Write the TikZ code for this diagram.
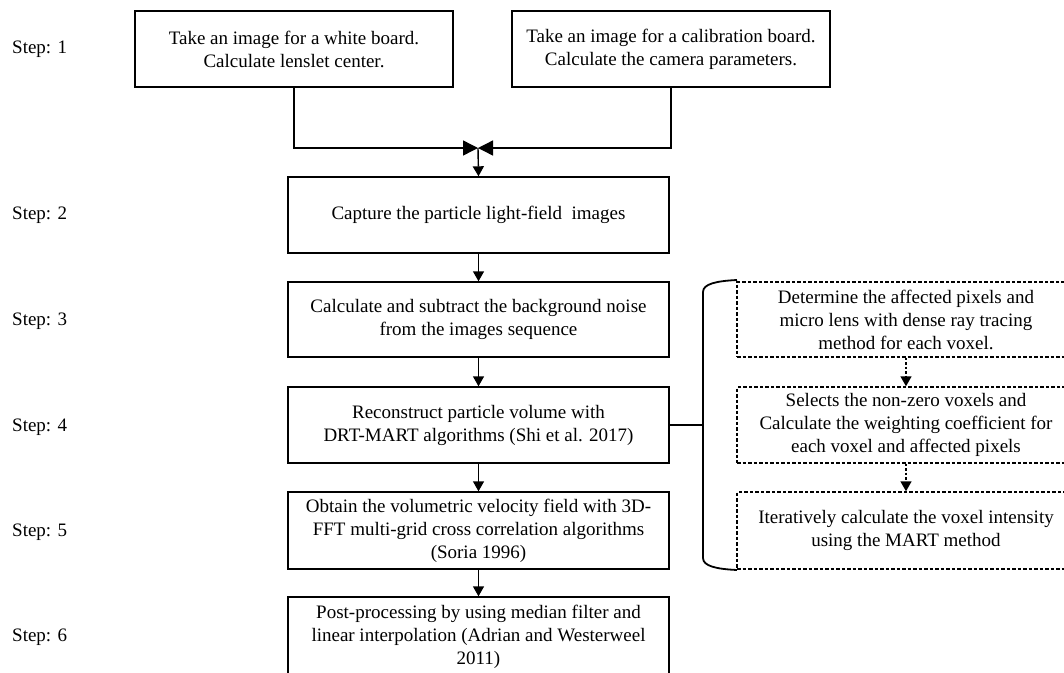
\documentclass[tikz,border=0pt]{standalone}
\usepackage{fontspec}
\setmainfont{Liberation Serif}
\usetikzlibrary{arrows.meta}
\begin{document}
\begin{tikzpicture}[x=1pt,y=-1pt,
  box/.style={draw, line width=1.4pt, align=center, inner sep=0pt, font=\fontsize{19}{23}\selectfont},
  dbox/.style={box, dash pattern=on 3.5pt off 2pt},
  lbl/.style={anchor=west, inner sep=0pt, font=\fontsize{19}{23}\selectfont},
  arr/.style={line width=1.4pt, -{Triangle[length=10pt,width=11pt]}},
  darr/.style={arr, dash pattern=on 2.5pt off 2pt},
  jarr/.style={line width=1.4pt, -{Triangle[length=15pt,width=15pt]}},
  brace/.style={line width=1.8pt}
]
\useasboundingbox (0,0) rectangle (1064,672);

% step labels
\node[lbl] (s1) at (12,49)  {Step: 1};
\node[lbl] (s2) at (12,215) {Step: 2};
\node[lbl] (s3) at (12,321) {Step: 3};
\node[lbl] (s4) at (12,427) {Step: 4};
\node[lbl] (s5) at (12,532) {Step: 5};
\node[lbl] (s6) at (12,637) {Step: 6};

% main boxes
\node[box, minimum width=318pt, minimum height=76pt] (b1l) at (294,49)
  {Take an image for a white board.\\Calculate lenslet center.};
\node[box, minimum width=318pt, minimum height=76pt] (b1r) at (671,49)
  {Take an image for a calibration board.\\Calculate the camera parameters.};
\node[box, minimum width=381pt, minimum height=76pt] (b2) at (478.5,215)
  {Capture the particle light-field\ \ images};
\node[box, minimum width=381pt, minimum height=75pt] (b3) at (478.5,319.5)
  {Calculate and subtract the background noise\\from the images sequence};
\node[box, minimum width=381pt, minimum height=76pt] (b4) at (478.5,425)
  {Reconstruct particle volume with\\DRT-MART algorithms (Shi et al. 2017)};
\node[box, minimum width=381pt, minimum height=77pt] (b5) at (478.5,530.5)
  {Obtain the volumetric velocity field with 3D-\\FFT multi-grid cross correlation algorithms\\(Soria 1996)};
\node[box, minimum width=381pt, minimum height=80pt] (b6) at (478.5,637)
  {Post-processing by using median filter and\\linear interpolation (Adrian and Westerweel\\2011)};

% dashed sub-step boxes
\node[dbox, minimum width=338pt, minimum height=75pt] (d1) at (906,319.5)
  {Determine the affected pixels and\\micro lens with dense ray tracing\\method for each voxel.};
\node[dbox, minimum width=338pt, minimum height=76pt] (d2) at (906,425)
  {Selects the non-zero voxels and\\Calculate the weighting coefficient for\\each voxel and affected pixels};
\node[dbox, minimum width=338pt, minimum height=77pt] (d3) at (906,530.5)
  {Iteratively calculate the voxel intensity\\using the MART method};

% junction
\coordinate (j) at (478,148);
\draw[jarr] (b1l.south) |- (j);
\draw[jarr] (b1r.south) |- (j);
\draw[arr] (j) -- (b2.north);

\draw[arr] (b2.south) -- (b3.north);
\draw[arr] (b3.south) -- (b4.north);
\draw[arr] (b4.south) -- (b5.north);
\draw[arr] (b5.south) -- (b6.north);

% bracket
\coordinate (bt) at (737,280);
\coordinate (bb) at (737,570);
\coordinate (bm) at (703,425);
\draw[brace] (bt) .. controls (716,281) and (703,284) .. (703,292)
  -- (703,558) .. controls (703,566) and (716,569) .. (bb);
\draw[line width=1.4pt] (b4.east) -- (bm);

\draw[darr] (d1.south) -- (d2.north);
\draw[darr] (d2.south) -- (d3.north);
\end{tikzpicture}
\end{document}
